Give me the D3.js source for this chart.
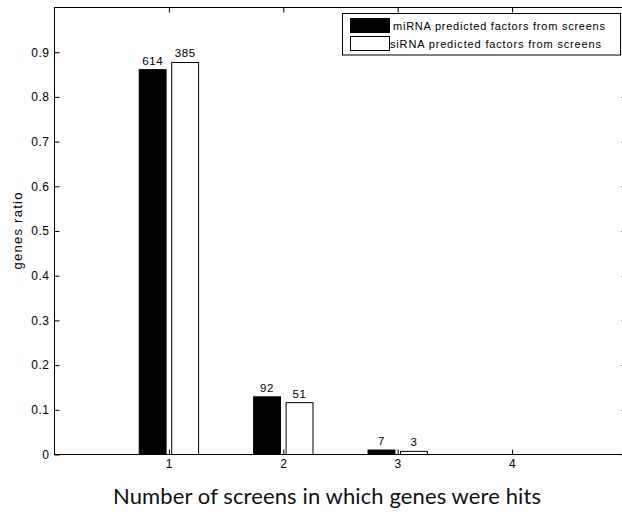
<!DOCTYPE html>
<html>
<head>
<meta charset="utf-8">
<script src="https://cdn.jsdelivr.net/npm/d3@7"></script>
<style>
  body { margin: 0; background: #fff; }
  svg { display: block; }
</style>
</head>
<body>
<script>
var w = 622;
var h = 512;

// data
var categories = [1, 2, 3];
var seriesNames = ["miRNA predicted factors from screens", "siRNA predicted factors from screens"];
var miRatio = [0.861, 0.129, 0.010];
var siRatio = [0.877, 0.116, 0.007];
var miCount = [614, 92, 7];
var siCount = [385, 51, 3];
var xTicks = [1, 2, 3, 4];
var yTicks = [0, 0.1, 0.2, 0.3, 0.4, 0.5, 0.6, 0.7, 0.8, 0.9];

// plot box edges (named so they don't clash with window.top)
var pLeft = 54.5, pRight = 626.5, pTop = 7.5, pBottom = 454.5;
var tickFont = "'Liberation Sans', Arial, sans-serif";

var svg = d3.select("body").append("svg")
  .attr("width", w)
  .attr("height", h);

var x = d3.scaleLinear().domain([0, 5]).range([pLeft, pRight]);
var y = d3.scaleLinear().domain([0, 1]).range([pBottom, pTop]);

var off = 0.142;   // half distance between bar centres, in x units
var bw = 0.235;    // bar width, in x units

var series = [
  {vals: miRatio, counts: miCount, fill: "#000", dx: -off},
  {vals: siRatio, counts: siCount, fill: "#fff", dx: off}
];

// bars
series.forEach(function(s) {
  svg.append("g").selectAll("rect")
    .data(categories)
    .enter().append("rect")
    .attr("x", function(d) { return x(d + s.dx - bw / 2); })
    .attr("width", x(bw) - x(0))
    .attr("y", function(d, i) { return y(s.vals[i]); })
    .attr("height", function(d, i) { return y(0) - y(s.vals[i]); })
    .attr("fill", s.fill)
    .attr("stroke", "#000")
    .attr("stroke-width", 1);

  svg.append("g").selectAll("text")
    .data(categories)
    .enter().append("text")
    .attr("text-anchor", "middle")
    .attr("font-family", tickFont)
    .attr("font-size", "11.5px")
    .attr("letter-spacing", "0.6px")
    .attr("x", function(d) { return x(d + s.dx); })
    .attr("y", function(d, i) { return y(s.vals[i]) - 5; })
    .text(function(d, i) { return s.counts[i]; });
});

// axes, MATLAB style ticks pointing in
var yAxis = d3.axisLeft(y).tickValues(yTicks).tickSizeInner(-5).tickSizeOuter(0).tickPadding(5)
  .tickFormat(function(d) { return d === 0 ? "0" : d3.format(".1f")(d); });
var yAxisR = d3.axisRight(y).tickValues(yTicks).tickSizeInner(-5).tickSizeOuter(0).tickFormat("");
var xAxis = d3.axisBottom(x).tickValues(xTicks).tickSizeInner(-5).tickSizeOuter(0).tickPadding(5)
  .tickFormat(d3.format("d"));
var xAxisT = d3.axisTop(x).tickValues(xTicks).tickSizeInner(-5).tickSizeOuter(0).tickFormat("");

svg.append("g").attr("transform", "translate(" + pLeft + ",0)").call(yAxis);
svg.append("g").attr("transform", "translate(" + pRight + ",0)").call(yAxisR);
svg.append("g").attr("transform", "translate(0," + pBottom + ")").call(xAxis);
svg.append("g").attr("transform", "translate(0," + pTop + ")").call(xAxisT);

svg.selectAll(".domain").remove();
svg.selectAll(".tick line").attr("stroke", "#000");
svg.selectAll(".tick text")
  .attr("font-family", tickFont)
  .attr("font-size", "12px")
  .attr("letter-spacing", "0.5px")
  .attr("fill", "#000");

// plot box
svg.append("rect")
  .attr("x", pLeft).attr("y", pTop)
  .attr("width", pRight - pLeft).attr("height", pBottom - pTop)
  .attr("fill", "none")
  .attr("stroke", "#000")
  .attr("stroke-width", 1);

// y label
svg.append("text")
  .attr("transform", "translate(22," + ((pTop + pBottom) / 2) + ") rotate(-90)")
  .attr("text-anchor", "middle")
  .attr("font-family", tickFont)
  .attr("font-size", "13px")
  .attr("textLength", 77)
  .text("genes ratio");

// x title
svg.append("text")
  .attr("x", 113)
  .attr("y", 504)
  .attr("font-family", "Lato, 'Open Sans', sans-serif")
  .attr("font-size", "22px")
  .attr("textLength", 428)
  .attr("fill", "#111")
  .text("Number of screens in which genes were hits");

// legend
var lg = svg.append("g");
lg.append("rect")
  .attr("x", 342.5).attr("y", 13.5)
  .attr("width", 278).attr("height", 41.5)
  .attr("fill", "#fff").attr("stroke", "#000");
var legendFills = ["#000", "#fff"];
lg.selectAll("rect.sw")
  .data(seriesNames)
  .enter().append("rect")
  .attr("class", "sw")
  .attr("x", 350.5)
  .attr("y", function(d, i) { return 18.5 + i * 18; })
  .attr("width", 39)
  .attr("height", 14)
  .attr("fill", function(d, i) { return legendFills[i]; })
  .attr("stroke", "#000");
lg.selectAll("text")
  .data(seriesNames)
  .enter().append("text")
  .attr("x", function(d, i) { return i === 0 ? 393 : 390; })
  .attr("y", function(d, i) { return 30 + i * 17.5; })
  .attr("font-family", tickFont)
  .attr("font-size", "11px")
  .attr("textLength", function(d, i) { return i === 0 ? 212 : 211; })
  .text(function(d) { return d; });
</script>
</body>
</html>
